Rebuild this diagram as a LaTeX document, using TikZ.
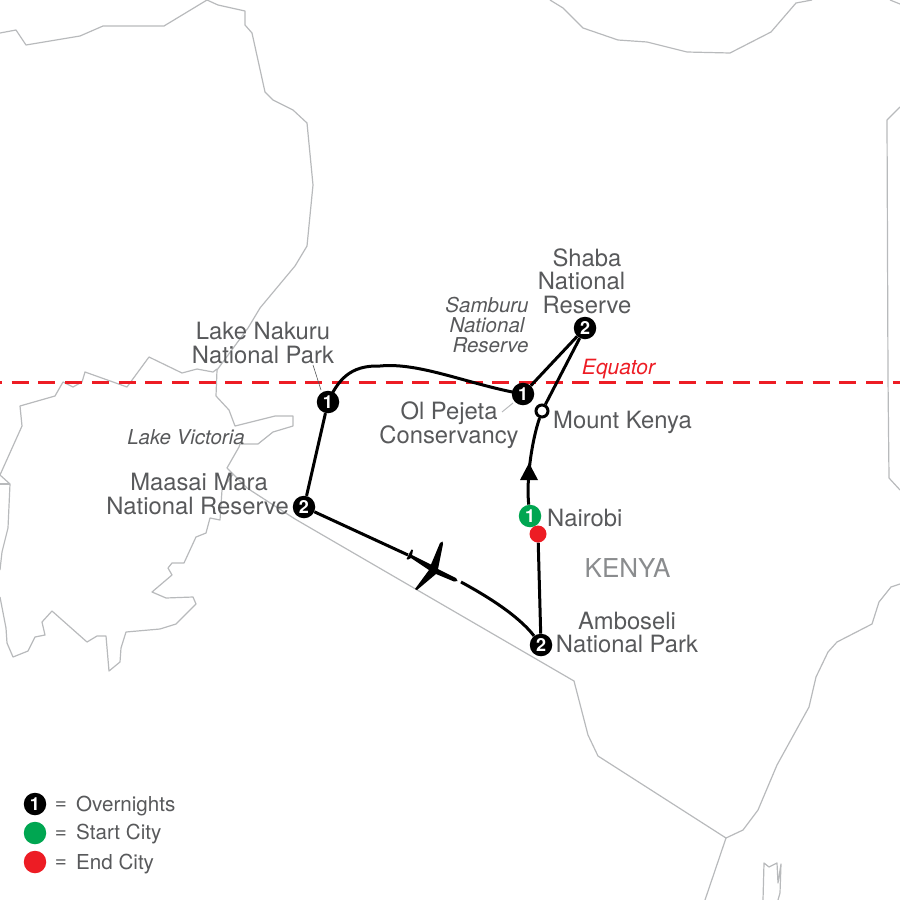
\documentclass[tikz,border=0pt]{standalone}
\usepackage{fontspec}
\setmainfont{TeX Gyre Heros}
\usetikzlibrary{backgrounds}
\definecolor{bordergrey}{HTML}{B8BABC}
\definecolor{labelgrey}{HTML}{58595B}
\definecolor{kenyagrey}{HTML}{8A8C8E}
\definecolor{eqred}{HTML}{ED1C24}
\definecolor{startgreen}{HTML}{00A651}
\tikzset{
  border/.style={draw=bordergrey,line width=1.2pt,line join=round},
  route/.style={draw=black,line width=3pt},
  leader/.style={draw=labelgrey,line width=.6pt},
  stopn/.style={circle,fill=black,text=white,inner sep=0pt,minimum size=22.5pt,font=\fontsize{18}{18}\selectfont\bfseries},
  startn/.style={stopn,fill=startgreen},
  endn/.style={circle,fill=eqred,inner sep=0pt,minimum size=17pt},
  passn/.style={circle,fill=white,draw=black,line width=3pt,inner sep=0pt,minimum size=12pt},
  place/.style={text=labelgrey,align=center,inner sep=0pt,font=\fontsize{23.8}{23.5}\selectfont},
  park/.style={text=labelgrey,align=center,inner sep=0pt,font=\fontsize{20.5}{20}\selectfont\itshape},
  legend/.style={text=labelgrey,anchor=west,inner sep=0pt,font=\fontsize{20.6}{22}\selectfont},
}
\begin{document}
\begin{tikzpicture}[x=1pt,y=-1pt]
\useasboundingbox (0,0) rectangle (900,900);
% stops
\node[stopn] (nakuru) at (328,402) {1};
\node[stopn] (olpejeta) at (523,394) {1};
\node[stopn] (shaba) at (585,328) {2};
\node[passn] (mtkenya) at (542,411) {};
\node[startn] (nairobi) at (530,516) {1};
\node[endn] (nairobiend) at (538,534) {};
\node[stopn] (amboseli) at (541,645) {2};
\node[stopn] (maasai) at (304,507) {2};
\coordinate (planetail) at (408,555);
\coordinate (planenose) at (461,582);
\coordinate (nakurulabel) at (313,365);
\coordinate (nakurutip) at (321,390);
\coordinate (pejetalabel) at (502,412);
\coordinate (pejetatip) at (513,403);
\coordinate (eqw) at (0,382);
\coordinate (eqe) at (900,382);
\coordinate (curvemid) at (380,366);
\begin{pgfonlayer}{background}
% borders
\draw[border] (0,33) -- (16,30) -- (26,45) -- (80,36) -- (103,26) -- (164,26) -- (207,0) -- (218,5) -- (245,11) -- (245,25) -- (252,33) -- (265,92) -- (273,100) -- (293,110) -- (307,123) -- (313,185) -- (307,246) -- (295,266) -- (260,308) -- (248,328) -- (217,370) -- (216,396) -- (229,410) -- (235,426) -- (275,416) -- (293,416) -- (293,426) -- (273,432) -- (258,444) -- (240,444) -- (239,447) -- (227,468) -- (247,488) -- (295,519) -- (574,681) -- (588,735) -- (598,756) -- (726,838) -- (705,900);
\draw[border] (726,838) -- (743,830) -- (758,810) -- (777,765) -- (809,707) -- (816,677) -- (828,652) -- (837,642) -- (872,624) -- (879,602) -- (891,587) -- (900,584);
\draw[border] (233,474) -- (222,490) -- (220,520) -- (210,518) -- (206,533) -- (196,537) -- (184,563) -- (172,563) -- (168,568) -- (172,575) -- (152,592) -- (166,598) -- (193,597) -- (196,604) -- (176,624) -- (160,629) -- (126,632) -- (121,648) -- (120,662) -- (109,671) -- (106,636) -- (97,636) -- (87,642) -- (52,611) -- (42,622) -- (45,635) -- (35,637) -- (28,651) -- (13,657) -- (7,643) -- (6,628) -- (0,597);
\draw[border] (217,369) -- (213,372) -- (197,369) -- (182,373) -- (149,357) -- (127,387) -- (85,372) -- (82,382) -- (73,387) -- (63,382) -- (55,396) -- (20,406) -- (22,426) -- (0,475) -- (10,484) -- (8,528) -- (2,552) -- (0,570);
\draw[border] (0,484) -- (10,484);
\draw[border] (550,0) -- (563,8) -- (583,28) -- (618,40) -- (647,42) -- (687,52) -- (730,53) -- (771,32) -- (796,3) -- (812,0);
\draw[border] (890,0) -- (900,4);
\draw[border] (900,107) -- (887,120) -- (888,378) -- (889,478) -- (900,490);
\draw[border] (763,900) -- (764,863) -- (769,867) -- (777,863) -- (778,883) -- (781,864) -- (780,893) -- (778,900);
% equator
\draw[eqred,line width=3pt,dash pattern=on 17pt off 9.7pt,dash phase=15pt] (eqw) -- (eqe);
% leaders
\draw[leader] (nakurulabel) -- (nakurutip);
\draw[leader,draw=bordergrey,line width=1pt] (pejetalabel) -- (pejetatip);
% routes
\draw[route] (nakuru.center) .. controls (338,380) and (350,365) .. (curvemid) .. controls (420,362) and (470,385) .. (olpejeta.center);
\draw[route] (olpejeta) -- (shaba);
\draw[route] (shaba) -- (mtkenya);
\draw[route] (nakuru) -- (maasai);
\draw[route] (nairobi) .. controls (526,480) and (532,440) .. (mtkenya);
\draw[route] (nairobiend) -- (amboseli);
\draw[route] (maasai) -- (planetail);
\draw[route] (planenose) .. controls (485,595) and (518,615) .. (amboseli);
\fill[black] (529,463) -- (538,480) -- (520,480) -- cycle;
% aeroplane
\fill[black] (406.5,559) -- (409,554) -- (411.5,549.5) -- (413,550) -- (412,555) -- (431,564.5) -- (440,543) -- (442.5,541.5) -- (443,544) -- (438,569) -- (456,578) -- (457.5,581) -- (454,581.5) -- (436,574) -- (417,590) -- (415,589) -- (429,570) -- (411,558) -- (408,559.5) -- cycle;
\end{pgfonlayer}
% labels
\node[place] (lshaba) at (587,281) {Shaba\\\hspace*{-11pt}National\\Reserve};
\node[park] (lsamburu) at (487,324.5) {Samburu\\National\\\hspace*{7pt}Reserve};
\node[place] (lnakuru) at (263,343) {Lake Nakuru\\National Park};
\node[text=eqred,inner sep=0pt,font=\fontsize{21}{20}\selectfont\itshape] (lequator) at (618.5,369) {Equator};
\node[place] (lpejeta) at (449,425) {Ol Pejeta\\Conservancy};
\node[place,anchor=west] (lkenya) at (553,422) {Mount Kenya};
\node[park] (lvictoria) at (186,437) {Lake Victoria};
\node[place] (lmm1) at (199,482) {Maasai Mara};
\node[place,anchor=east] (lmm2) at (289,506) {National Reserve};
\node[place,anchor=west] (lnairobi) at (547,518) {Nairobi};
\node[text=kenyagrey,inner sep=0pt,font=\fontsize{26}{26}\selectfont] (lkenyac) at (627.5,568) {KENYA};
\node[place] (lamboseli) at (627,632.5) {Amboseli\\National Park};
% legend
\node[stopn] (k1) at (35,804) {1};
\node[startn] (k2) at (35,833) {};
\node[endn,minimum size=22.5pt] (k3) at (35,862) {};
\node[legend,anchor=center] (e1) at (61,806) {=};
\node[legend,anchor=center] (e2) at (61,835) {=};
\node[legend,anchor=center] (e3) at (61,864) {=};
\node[legend] (t1) at (76,806.5) {Overnights};
\node[legend] (t2) at (76,834.5) {Start City};
\node[legend] (t3) at (76,864.5) {End City};
\end{tikzpicture}
\end{document}
